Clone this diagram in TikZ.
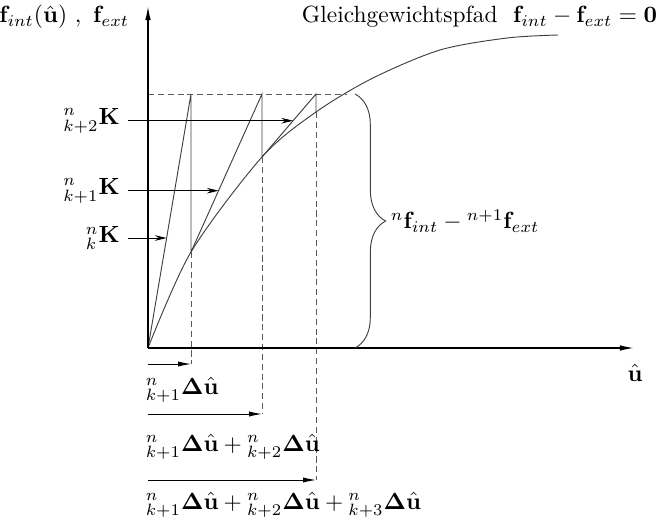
\documentclass[tikz,border=0pt]{standalone}
\usepackage{amsmath,amssymb}
\usepackage{tikz}
\usetikzlibrary{arrows.meta,positioning,calc,decorations.pathreplacing}

\begin{document}
\begin{tikzpicture}[x=0.015cm,y=0.015cm,
  achse/.style={line width=0.8pt,-{Latex[length=6.5pt,width=2.4pt]}},
  linie/.style={line width=0.4pt,black!75},
  strich/.style={linie,black!65,dash pattern=on 2.6pt off 1.6pt},
  kpfeil/.style={line width=0.4pt,-{Stealth[length=5pt,width=2.4pt]}},
  upfeil/.style={line width=0.4pt,-{Latex[length=5.5pt,width=2.2pt]}},
  lab/.style={inner sep=1pt}]
\useasboundingbox (-148,-177) rectangle (514,348);
\coordinate (O) at (0,0);
\coordinate (xend) at (487,0);
\coordinate (yend) at (0,343);
\coordinate (p1) at (43,254);
\coordinate (p2) at (114,254);
\coordinate (p3) at (168,254);
\coordinate (c1) at (43,96);
\coordinate (c2) at (114,191);
\coordinate (c3) at (168,236);
\coordinate (b1) at (43,-16);
\coordinate (b2) at (114,-66);
\coordinate (b3) at (168,-132);
\coordinate (dend) at (199,254);

\draw[strich] (O |- p1) -- (dend);
\draw[linie] plot[smooth] coordinates {(0,0) (43,96) (114,191) (168,236) (225,270) (292,298) (359,310) (410,313)};
\draw[linie] (O) -- (p1) -- (c1) -- (p2) -- (c2) -- (p3) -- (c3);
\foreach \i in {1,2,3} {
  \draw[strich] (c\i) -- (b\i);
  \draw[upfeil] (O |- b\i) -- (b\i);
}
\draw[achse] (O) -- (xend);
\draw[achse] (O) -- (yend);

\coordinate (t0) at ($(O)!0.433!(p1)$);
\coordinate (t1) at ($(c1)!0.388!(p2)$);
\coordinate (t2) at ($(c2)!0.576!(p3)$);
\node[anchor=east] (K0) at (-20,0 |- t0) {$^{n}_{k}\mathbf{K}$};
\node[anchor=east] (K1) at (-20,0 |- t1) {$^{n}_{k+1}\mathbf{K}$};
\node[anchor=east] (K2) at (-20,0 |- t2) {$^{n}_{k+2}\mathbf{K}$};
\draw[kpfeil] (K0.east) -- (t0);
\draw[kpfeil] (K1.east) -- (t1);
\draw[kpfeil] (K2.east) -- (t2);

\coordinate (btop) at (207,254);
\coordinate (bbot) at (207,0);
\draw[linie,decorate,decoration={brace,amplitude=0.46cm}] (btop) -- (bbot);
\node[lab,anchor=west] (fdiff) at (240,127) {$^{n}\mathbf{f}_{int}-{}^{n+1}\mathbf{f}_{ext}$};

\node[lab,anchor=east] (ylab) at (-16,331) {$\mathbf{f}_{int}(\hat{\mathbf{u}})\ ,\ \mathbf{f}_{ext}$};
\node[lab,anchor=east] (pfad) at (512,331) {Gleichgewichtspfad\ \ $\mathbf{f}_{int}-\mathbf{f}_{ext}=\mathbf{0}$};
\node[lab] (ulab) at (487,-25) {$\hat{\mathbf{u}}$};

\node[lab,anchor=west] (du1) at (-5,-42) {$^{n}_{k+1}\mathbf{\Delta}\hat{\mathbf{u}}$};
\node[lab,anchor=west] (du2) at (-5,-99) {$^{n}_{k+1}\mathbf{\Delta}\hat{\mathbf{u}}+{}^{n}_{k+2}\mathbf{\Delta}\hat{\mathbf{u}}$};
\node[lab,anchor=west] (du3) at (-5,-157) {$^{n}_{k+1}\mathbf{\Delta}\hat{\mathbf{u}}+{}^{n}_{k+2}\mathbf{\Delta}\hat{\mathbf{u}}+{}^{n}_{k+3}\mathbf{\Delta}\hat{\mathbf{u}}$};
\end{tikzpicture}
\end{document}
